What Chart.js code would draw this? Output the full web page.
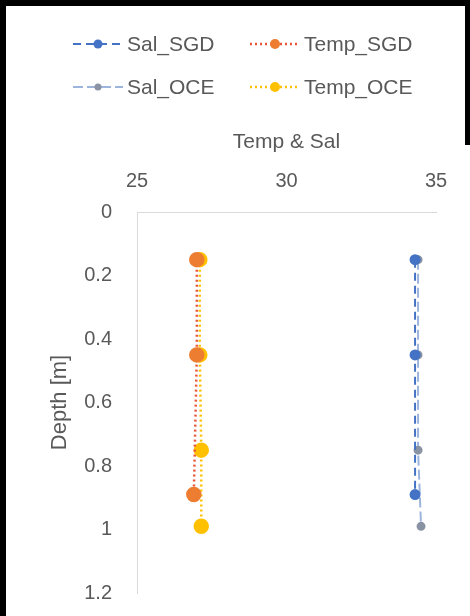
<!DOCTYPE html>
<html>
<head>
<meta charset="utf-8">
<script src="https://cdn.jsdelivr.net/npm/chart.js@4.4.1/dist/chart.umd.min.js"></script>
<style>
  html, body { margin: 0; padding: 0; background: #fff; }
  #wrap { position: relative; width: 470px; height: 616px; overflow: hidden; }
  #profile { position: absolute; left: 0; top: 0; }
  .frame { position: absolute; background: #000; }
  .key { position: absolute; }
  .key span {
    position: absolute; white-space: nowrap; color: #595959;
    font: 21px "Liberation Sans", Arial, sans-serif; line-height: 24px;
  }
  .key canvas { position: absolute; }
</style>
</head>
<body>
<div id="wrap">
  <canvas id="profile" width="470" height="616"></canvas>
  <div id="legend"></div>
  <div class="frame" style="left:0;top:0;width:6px;height:616px"></div>
  <div class="frame" style="left:0;top:0;width:470px;height:6px"></div>
  <div class="frame" style="left:465px;top:0;width:5px;height:145px"></div>
</div>
<script>
// depth of each sample [m]
const depthSGD = [0.15, 0.45, 0.89];
const depthOCE = [0.15, 0.45, 0.75, 0.99];

// salinity and temperature at those depths
const salSGD = [34.3, 34.3, 34.3];
const salOCE = [34.4, 34.4, 34.4, 34.5];
const tempSGD = [27.0, 27.0, 26.9];
const tempOCE = [27.1, 27.1, 27.15, 27.15];

const xTicks = [25, 30, 35];
const seriesNames = ['Sal_SGD', 'Temp_SGD', 'Sal_OCE', 'Temp_OCE'];

const textGray = '#595959';
Chart.defaults.font.family = '"Liberation Sans", Arial, sans-serif';
Chart.defaults.font.size = 20;
Chart.defaults.color = textGray;

function pairs(xs, ys) {
    return xs.map((x, i) => ({ x: x, y: ys[i] }));
}

const styles = [
    { line: '#4472C4', marker: '#4472C4', dash: [8, 5], width: 2, radius: 4.5 },
    { line: '#E9553A', marker: '#ED7D31', dash: [2, 3], width: 2.5, radius: 6.5 },
    { line: '#9DB5DD', marker: '#8A93A3', dash: [10, 4], width: 2, radius: 3.5 },
    { line: '#FFC000', marker: '#FFC000', dash: [2, 3], width: 2.5, radius: 6.5 }
];

// legend: two rows of two, line sample with marker then the name
function makeSample(s) {
    const c = document.createElement('canvas');
    c.width = 50;
    c.height = 16;
    const g = c.getContext('2d');
    g.strokeStyle = s.line;
    g.lineWidth = s.width;
    g.setLineDash(s.dash);
    g.beginPath();
    g.moveTo(0, 8);
    g.lineTo(50, 8);
    g.stroke();
    g.setLineDash([]);
    g.fillStyle = s.marker;
    g.beginPath();
    g.arc(25, 8, Math.min(s.radius, 5), 0, Math.PI * 2);
    g.fill();
    return c;
}

const legendBox = document.getElementById('legend');
seriesNames.forEach((name, i) => {
    const col = i % 2, row = Math.floor(i / 2);
    const cx = col === 0 ? 73 : 250;
    const cy = row === 0 ? 44 : 87;
    const item = document.createElement('div');
    item.className = 'key';
    const c = makeSample(styles[i]);
    c.style.left = cx + 'px';
    c.style.top = (cy - 8) + 'px';
    const t = document.createElement('span');
    t.textContent = name;
    t.style.left = (cx + 54) + 'px';
    t.style.top = (cy - 12) + 'px';
    item.appendChild(c);
    item.appendChild(t);
    legendBox.appendChild(item);
});

const seriesData = [
    pairs(salSGD, depthSGD),
    pairs(tempSGD, depthSGD),
    pairs(salOCE, depthOCE),
    pairs(tempOCE, depthOCE)
];

const datasets = seriesNames.map((name, i) => ({
    label: name,
    data: seriesData[i],
    showLine: true,
    borderColor: styles[i].line,
    borderWidth: styles[i].width,
    borderDash: styles[i].dash,
    pointBackgroundColor: styles[i].marker,
    pointBorderColor: styles[i].marker,
    pointRadius: styles[i].radius,
    pointHoverRadius: styles[i].radius,
    pointStyle: 'circle',
    fill: false
}));

const ctx = document.getElementById('profile').getContext('2d');

new Chart(ctx, {
    type: 'scatter',
    data: { datasets: datasets },
    options: {
        responsive: false,
        animation: false,
        layout: { padding: { left: 0, right: 34, top: 0, bottom: 23 } },
        plugins: {
            tooltip: { enabled: false },
            legend: { display: false }
        },
        scales: {
            x: {
                type: 'linear',
                position: 'top',
                min: 25,
                max: 35,
                afterBuildTicks: (scale) => { scale.ticks = xTicks.map(v => ({ value: v })); },
                ticks: { padding: 19, color: textGray },
                grid: { display: false, drawTicks: false },
                border: { display: true, color: '#D9D9D9', width: 1 },
                title: {
                    display: true, text: 'Temp & Sal', color: textGray,
                    font: { size: 21 }, padding: { top: 130, bottom: 0 }
                },
                afterFit: (scale) => { scale.height = 212; }
            },
            y: {
                type: 'linear',
                reverse: true,
                min: 0,
                max: 1.2,
                ticks: {
                    stepSize: 0.2, padding: 25, color: textGray,
                    callback: (v) => String(Number(v.toFixed(1)))
                },
                grid: { display: false, drawTicks: false },
                border: { display: true, color: '#D9D9D9', width: 1 },
                title: {
                    display: true, text: 'Depth [m]', color: textGray,
                    font: { size: 22 }, padding: { top: 47, bottom: 0 }
                },
                afterFit: (scale) => {
                    scale.width = 137;
                    // label padding shouldn't push the plot edges in
                    scale.paddingTop = 0;
                    scale.paddingBottom = 0;
                }
            }
        }
    }
});
</script>
</body>
</html>
